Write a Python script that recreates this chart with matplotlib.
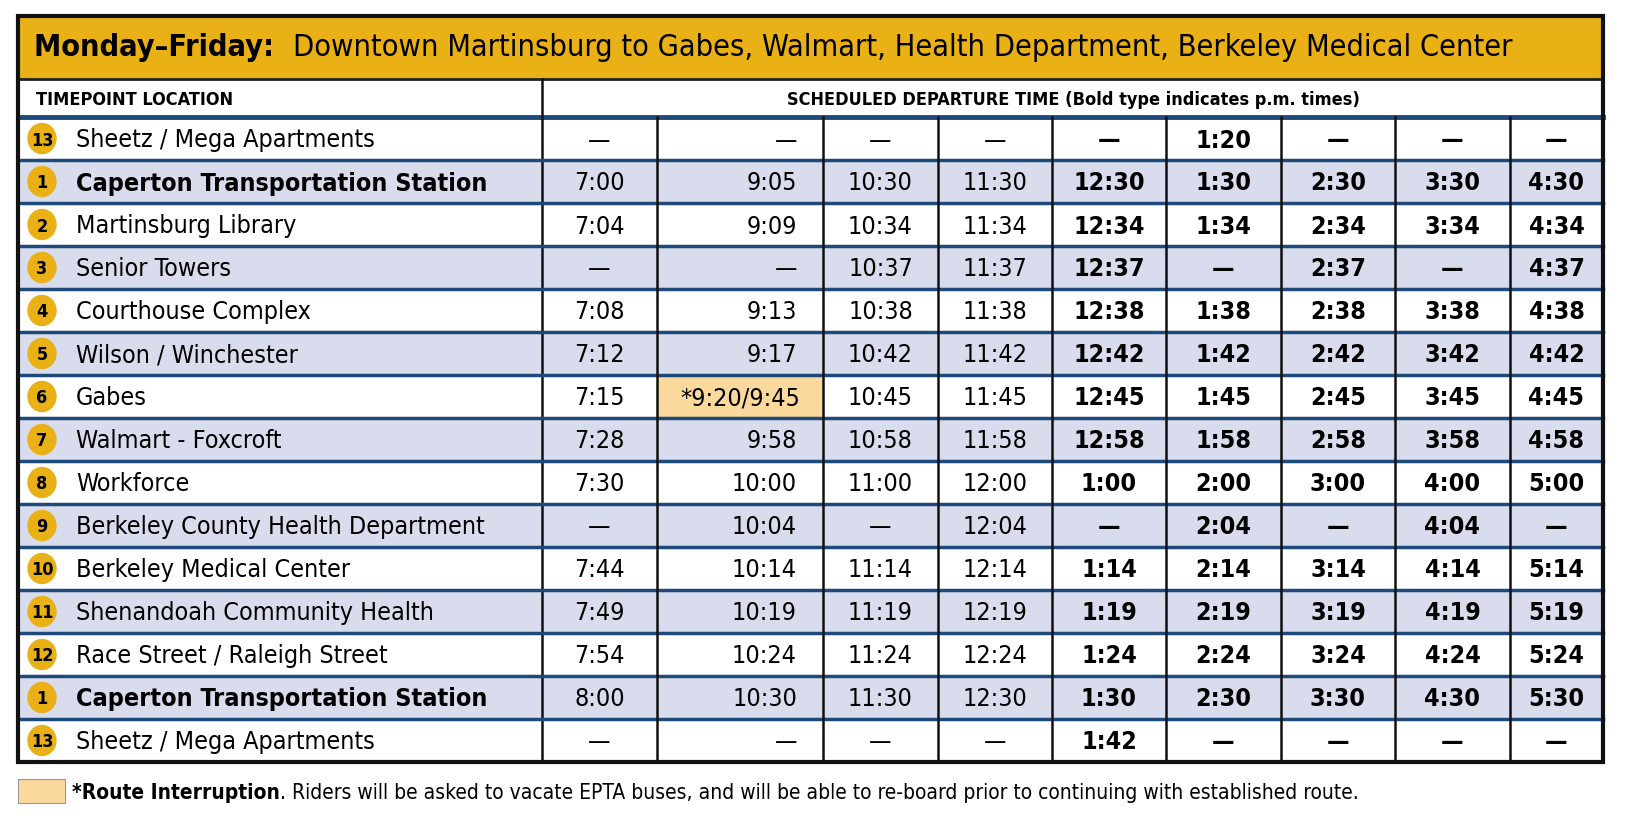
import matplotlib
matplotlib.use('Agg')
import matplotlib.pyplot as plt
from matplotlib.patches import Rectangle, Ellipse

FONT = ['DejaVu Sans']
STRETCH = 'condensed'

stops = ['Sheetz / Mega Apartments', 'Caperton Transportation Station', 'Martinsburg Library',
         'Senior Towers', 'Courthouse Complex', 'Wilson / Winchester', 'Gabes',
         'Walmart - Foxcroft', 'Workforce', 'Berkeley County Health Department',
         'Berkeley Medical Center', 'Shenandoah Community Health', 'Race Street / Raleigh Street',
         'Caperton Transportation Station', 'Sheetz / Mega Apartments']
stop_nums = ['13', '1', '2', '3', '4', '5', '6', '7', '8', '9', '10', '11', '12', '1', '13']
bold_stops = [1, 13]

times = [
    ['—', '—', '—', '—', '—', '1:20', '—', '—', '—'],
    ['7:00', '9:05', '10:30', '11:30', '12:30', '1:30', '2:30', '3:30', '4:30'],
    ['7:04', '9:09', '10:34', '11:34', '12:34', '1:34', '2:34', '3:34', '4:34'],
    ['—', '—', '10:37', '11:37', '12:37', '—', '2:37', '—', '4:37'],
    ['7:08', '9:13', '10:38', '11:38', '12:38', '1:38', '2:38', '3:38', '4:38'],
    ['7:12', '9:17', '10:42', '11:42', '12:42', '1:42', '2:42', '3:42', '4:42'],
    ['7:15', '*9:20/9:45', '10:45', '11:45', '12:45', '1:45', '2:45', '3:45', '4:45'],
    ['7:28', '9:58', '10:58', '11:58', '12:58', '1:58', '2:58', '3:58', '4:58'],
    ['7:30', '10:00', '11:00', '12:00', '1:00', '2:00', '3:00', '4:00', '5:00'],
    ['—', '10:04', '—', '12:04', '—', '2:04', '—', '4:04', '—'],
    ['7:44', '10:14', '11:14', '12:14', '1:14', '2:14', '3:14', '4:14', '5:14'],
    ['7:49', '10:19', '11:19', '12:19', '1:19', '2:19', '3:19', '4:19', '5:19'],
    ['7:54', '10:24', '11:24', '12:24', '1:24', '2:24', '3:24', '4:24', '5:24'],
    ['8:00', '10:30', '11:30', '12:30', '1:30', '2:30', '3:30', '4:30', '5:30'],
    ['—', '—', '—', '—', '1:42', '—', '—', '—', '—'],
]
pm_cols = [4, 5, 6, 7, 8]
highlight = (6, 1)

GOLD = '#e9b116'
BLUE_ROW = '#d8dcec'
NAVY = '#1d4a7a'

fig = plt.figure(figsize=(16.34, 8.2), dpi=100)
ax = fig.add_axes([0, 0, 1, 1])
ax.set_xlim(0, 1634)
ax.set_ylim(820, 0)
ax.axis('off')
renderer = fig.canvas.get_renderer()


def chain(x, y, parts, size):
    """Пишет куски текста подряд, подбирая позицию по ширине предыдущего."""
    for s, weight in parts:
        t = ax.text(x, y, s, fontsize=size, fontweight=weight, family=FONT,
                    fontstretch=STRETCH, va='center')
        bb = t.get_window_extent(renderer)
        x += bb.width  # 1 px = 1 data unit here
    return x


left, right = 18, 1603
col_x = [542, 657, 823, 938, 1052, 1166, 1281, 1395, 1510, 1603]
top, title_bot, head_bot, bottom = 17, 80, 118, 763
row_h = (bottom - head_bot) / len(stops)

# title bar
ax.add_patch(Rectangle((left, top), right - left, title_bot - top, color=GOLD, zorder=0))
chain(34, 48, [('Monday–Friday:  ', 'bold'),
               ('Downtown Martinsburg to Gabes, Walmart, Health Department, Berkeley Medical Center',
                'normal')], 22)

# header
ax.text(36, 100, 'TIMEPOINT LOCATION', fontsize=13, fontweight='bold', family=FONT,
        fontstretch=STRETCH, va='center')
ax.text(1073, 100, 'SCHEDULED DEPARTURE TIME (Bold type indicates p.m. times)', fontsize=13,
        fontweight='bold', family=FONT, fontstretch=STRETCH, va='center', ha='center')
ax.plot([left, right], [title_bot, title_bot], color='#222222', lw=2)
ax.plot([left, right], [head_bot, head_bot], color=NAVY, lw=3.5)
ax.plot([col_x[0]] * 2, [title_bot, bottom], color='#111111', lw=1.8)

for i, name in enumerate(stops):
    y0 = head_bot + i * row_h
    yc = y0 + row_h / 2
    if i % 2 == 1:
        ax.add_patch(Rectangle((left, y0), right - left, row_h, color=BLUE_ROW, zorder=0))
    if i > 0:
        ax.plot([left, right], [y0, y0], color=NAVY, lw=2.5)
    ax.add_patch(Ellipse((42, yc), 28, 30, color=GOLD, zorder=2))
    ax.text(42, yc + 1, stop_nums[i], fontsize=13, fontweight='bold', family=FONT,
            fontstretch=STRETCH, ha='center', va='center', zorder=3)
    ax.text(76, yc + 1, name, fontsize=18, family=FONT, fontstretch=STRETCH, va='center',
            fontweight='bold' if i in bold_stops else 'normal')
    for j, t in enumerate(times[i]):
        x0, x1 = col_x[j], col_x[j + 1]
        if (i, j) == highlight:
            ax.add_patch(Rectangle((x0, y0), x1 - x0, row_h, color='#fbd99c', zorder=1))
        if j == 1 and (i, j) != highlight:
            x, ha = x1 - 26, 'right'
        else:
            x, ha = (x0 + x1) / 2, 'center'
        ax.text(x, yc + 1, t, fontsize=18, family=FONT, fontstretch=STRETCH, ha=ha,
                va='center', zorder=3, fontweight='bold' if j in pm_cols else 'normal')

for x in col_x[1:-1]:
    ax.plot([x, x], [head_bot, bottom], color='#111111', lw=1.8)
ax.add_patch(Rectangle((left, top), right - left, bottom - top, fill=False,
                       edgecolor='#111111', lw=3, zorder=5))

# footnote
ax.add_patch(Rectangle((18, 780), 47, 24, facecolor='#fbd99c', edgecolor='#999999', lw=0.8))
chain(72, 793, [('*Route Interruption', 'bold'),
                ('. Riders will be asked to vacate EPTA buses, and will be able to re-board prior '
                 'to continuing with established route.', 'normal')], 15)

fig.savefig('out.png', dpi=100)
